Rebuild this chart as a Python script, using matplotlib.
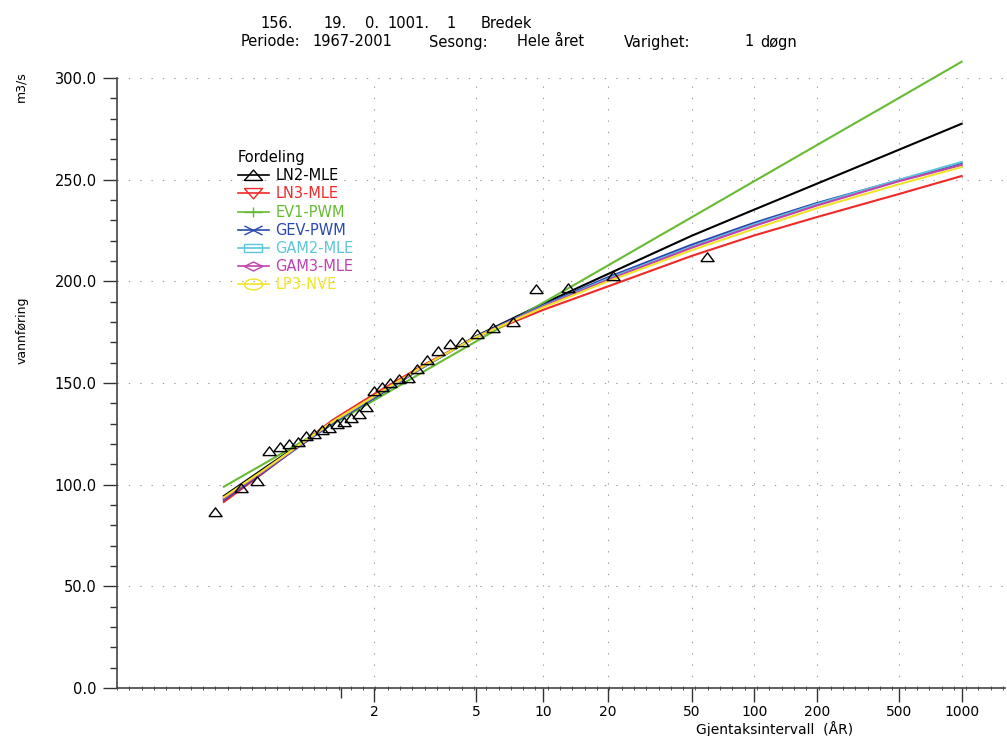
import numpy as np
import matplotlib
matplotlib.use("Agg")
import matplotlib.pyplot as plt
from matplotlib.lines import Line2D
from matplotlib.path import Path

# observerte flommer (gjentaksintervall, vannføring)
obs_T = [59.14, 21.23, 12.94, 9.303, 7.263, 5.957, 5.049, 4.381, 3.869, 3.464,
         3.136, 2.865, 2.637, 2.442, 2.275, 2.129, 2.000, 1.886, 1.784, 1.693,
         1.611, 1.536, 1.468, 1.406, 1.349, 1.296, 1.247, 1.202, 1.160, 1.120,
         1.084, 1.049, 1.017]
obs_Q = [212.0, 202.5, 196.5, 196.0, 180.0, 177.0, 174.0, 170.0, 169.0, 165.5,
         161.5, 157.0, 152.5, 152.0, 150.0, 148.0, 146.0, 138.0, 135.0, 133.0,
         131.0, 130.0, 128.0, 127.0, 125.0, 124.0, 121.0, 120.0, 118.7, 116.7,
         102.0, 98.3, 86.5]

# tilpassede fordelinger
curve_T = [1.0256, 1.1, 1.25, 1.5, 2, 3, 5, 10, 20, 50, 100, 200, 500, 1000]
ln2 = [94.4, 107.5, 119.5, 130.8, 143.0, 157.5, 173.0, 189.0, 203.6, 222.4, 235.3, 248.0, 264.8, 277.5]
ln3 = [91.5, 105.5, 119.0, 131.8, 144.5, 158.5, 172.5, 186.0, 197.5, 212.5, 222.6, 231.6, 243.0, 251.8]
ev1 = [99.0, 109.9, 120.1, 129.8, 141.5, 155.2, 170.4, 189.5, 207.8, 231.5, 249.3, 267.0, 290.3, 308.0]
gev = [92.5, 105.8, 118.5, 130.2, 142.5, 157.5, 172.8, 188.3, 202.0, 218.0, 228.8, 238.5, 249.8, 258.2]
gam2 = [93.5, 106.5, 119.0, 130.8, 143.2, 157.5, 172.6, 187.8, 201.3, 217.0, 228.0, 238.0, 250.0, 258.7]
gam3 = [93.2, 106.3, 118.9, 130.9, 143.4, 157.7, 172.6, 187.6, 200.8, 216.5, 227.3, 237.3, 249.3, 257.2]
lp3 = [93.8, 106.8, 119.2, 131.0, 143.5, 158.0, 172.5, 187.2, 200.0, 215.3, 225.8, 236.0, 247.8, 256.2]

names = ["LN2-MLE", "LN3-MLE", "EV1-PWM", "GEV-PWM", "GAM2-MLE", "GAM3-MLE", "LP3-NVE"]
series = [ln2, ln3, ev1, gev, gam2, gam3, lp3]
colors = ["#000000", "#f02828", "#66bb33", "#2a48b0", "#5cc6da", "#c042b0", "#f0e428"]

x_ticks = [2, 5, 10, 20, 50, 100, 200, 500, 1000]


# Gumbel-papir
def fwd(t):
    t = np.asarray(t, dtype=float)
    with np.errstate(all="ignore"):
        return -np.log(-np.log(1.0 - 1.0 / t))


def inv(y):
    y = np.asarray(y, dtype=float)
    return 1.0 / (1.0 - np.exp(-np.exp(-y)))


tri_up = [(-1, -0.62), (1, -0.62), (0, 0.7), (-1, -0.62)]
tri_dn = [(-1, 0.55), (1, 0.55), (0, -0.6), (-1, 0.55)]
plus = Path([(-1, 0), (1, 0), (0, -0.6), (0, 0.6)],
            [Path.MOVETO, Path.LINETO, Path.MOVETO, Path.LINETO])
cross = Path([(-1, -0.5), (1, 0.5), (-1, 0.5), (1, -0.5)],
             [Path.MOVETO, Path.LINETO, Path.MOVETO, Path.LINETO])
rect = [(-1, -0.4), (1, -0.4), (1, 0.4), (-1, 0.4), (-1, -0.4)]
diamond = [(-1, 0), (0, 0.5), (1, 0), (0, -0.5), (-1, 0)]
tt = np.linspace(0, 2 * np.pi, 25)
ellipse = list(zip(np.cos(tt), 0.6 * np.sin(tt)))
markers = [[(-1, -0.55), (1, -0.55), (0, 0.6), (-1, -0.55)], tri_dn, plus, cross, rect, diamond, ellipse]

W, H = 1007, 736
fig = plt.figure(figsize=(W / 100, H / 100), dpi=100)
ax = fig.add_axes([117 / W, 1 - 688 / H, (1005 - 117) / W, (688 - 78) / H])
ax.set_xscale("function", functions=(fwd, inv))

for s, c in zip(series, colors):
    ax.plot(curve_T, s, color=c, lw=1.5, clip_on=False)

ax.plot(obs_T, obs_Q, linestyle="None", marker=tri_up, ms=9.5,
        mfc="none", mec="black", mew=1.0, clip_on=False)

ax.set_xlim(inv(-2.495), inv(7.39))
ax.set_ylim(0, 300)

ax.set_xticks([inv(0.0)] + x_ticks)
ax.set_xticklabels([""] + [str(v) for v in x_ticks])
ax.set_xticks(inv(np.arange(-2.495, 7.39, 0.137)), minor=True)
ax.set_yticks(np.arange(0, 301, 50))
ax.set_yticklabels(["%.1f" % v for v in np.arange(0, 301, 50)])
ax.set_yticks(np.arange(0, 301, 10), minor=True)

ax.tick_params(axis="both", which="major", direction="out", length=10,
               width=1.0, color="#333333", labelsize=10.5)
ax.tick_params(axis="x", which="major", pad=2.5, labelsize=10)
ax.tick_params(axis="y", which="major", pad=4.5)
ax.tick_params(axis="y", which="minor", direction="out", length=5, width=1.0, color="#333333")
ax.tick_params(axis="x", which="minor", direction="inout", length=3, width=0.7, color="#555555")

ax.grid(True, which="major", color="#999999", linestyle=(0, (1.2, 9)), lw=0.8)
t0 = ax.xaxis.get_major_ticks()[0]
t0.tick1line.set_markersize(7)
t0.gridline.set_visible(False)

for side in ["top", "right"]:
    ax.spines[side].set_visible(False)
for side in ["left", "bottom"]:
    ax.spines[side].set_color("#444444")
    ax.spines[side].set_linewidth(1.2)

handles = [Line2D([], [], color=c, lw=1.2, marker=m, ms=13, mfc="none", mec=c, mew=1.0)
           for c, m in zip(colors, markers)]
ax.legend(handles, names, title="Fordeling", loc="upper left",
          bbox_to_anchor=(238 / W, 1 - 150 / H), bbox_transform=fig.transFigure,
          frameon=False, fontsize=10.5, title_fontsize=10.5, alignment="left",
          labelcolor="linecolor", handlelength=2.1, handletextpad=0.45,
          labelspacing=0.22, borderpad=0, borderaxespad=0)

# overskrift
line1 = [("156.", 260), ("19.", 323), ("0.", 365), ("1001.", 387), ("1", 446), ("Bredek", 481)]
line2 = [("Periode:", 241), ("1967-2001", 312), ("Sesong:", 429), ("Hele året", 517),
         ("Varighet:", 624), ("1", 744), ("døgn", 760)]
for txt, px in line1:
    fig.text(px / W, 1 - 24 / H, txt, ha="left", va="center", fontsize=10.5)
for txt, px in line2:
    fig.text(px / W, 1 - 42 / H, txt, ha="left", va="center", fontsize=10.5)

fig.text(21 / W, 1 - 87 / H, "m3/s", rotation=90, ha="center", va="center", fontsize=9)
fig.text(22 / W, 1 - 330 / H, "vannføring", rotation=90, ha="center", va="center", fontsize=9)
fig.text(775 / W, 1 - 729 / H, "Gjentaksintervall  (ÅR)", ha="center", va="center", fontsize=10)

fig.savefig("out.png", dpi=100)
